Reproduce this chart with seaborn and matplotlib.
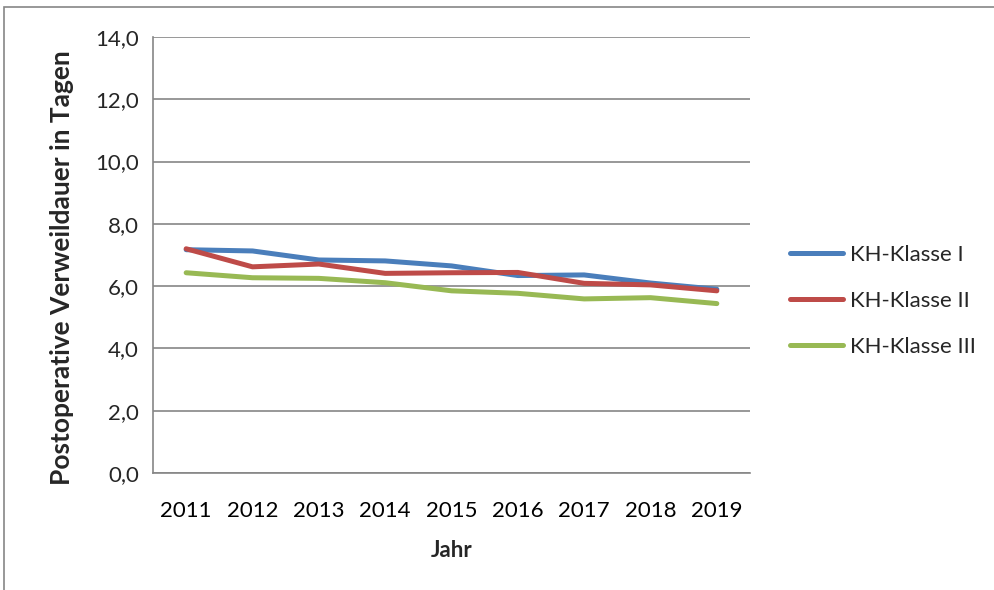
import pandas as pd
import seaborn as sns
import matplotlib.pyplot as plt
from matplotlib.patches import Rectangle

# values
years = [2011, 2012, 2013, 2014, 2015, 2016, 2017, 2018, 2019]
klasse_1 = [7.17, 7.13, 6.84, 6.81, 6.65, 6.34, 6.36, 6.10, 5.90]
klasse_2 = [7.20, 6.62, 6.71, 6.41, 6.43, 6.44, 6.09, 6.04, 5.85]
klasse_3 = [6.43, 6.27, 6.25, 6.11, 5.85, 5.77, 5.59, 5.63, 5.44]
series_names = ['KH-Klasse I', 'KH-Klasse II', 'KH-Klasse III']
colors = ['#4A7EBB', '#BE4B48', '#98B954']

df = pd.DataFrame({
    'Jahr': years * 3,
    'Wert': klasse_1 + klasse_2 + klasse_3,
    'Klasse': [series_names[0]] * 9 + [series_names[1]] * 9 + [series_names[2]] * 9,
})

sns.set_style('white')
plt.rcParams['font.family'] = ['Lato', 'DejaVu Sans']

fig = plt.figure(figsize=(9.95, 5.9), dpi=100)
ax = fig.add_axes([153 / 995, 1 - 473 / 590, (750 - 153) / 995, (473 - 37) / 590])

sns.lineplot(data=df, x='Jahr', y='Wert', hue='Klasse', palette=colors,
             linewidth=3.6, ax=ax, legend=True)
for line in ax.lines:
    line.set_solid_capstyle('round')

ax.set_xlim(2010.5, 2019.5)
ax.set_ylim(0, 14)
ax.set_yticks([0, 2, 4, 6, 8, 10, 12, 14])
ax.set_yticklabels([f'{v:.1f}'.replace('.', ',') for v in range(0, 15, 2)])
ax.set_xticks(years)
ax.set_xticklabels([str(y) for y in years])
ax.set_xticks([y - 0.5 for y in years] + [2019.5], minor=True)
ax.tick_params(axis='x', which='major', length=0, pad=20, labelsize=16, colors='black')
ax.tick_params(axis='x', which='minor', length=6, width=1.2, color='#868686', direction='out')
ax.tick_params(axis='y', length=6, width=1.2, color='#868686', direction='out', labelsize=16, pad=4)

ax.grid(axis='y', color='#868686', linewidth=1.2)
ax.set_axisbelow(True)
for s in ['top', 'right']:
    ax.spines[s].set_visible(False)
for s in ['left', 'bottom']:
    ax.spines[s].set_color('#868686')
    ax.spines[s].set_linewidth(1.2)

ax.set_xlabel('Jahr', fontsize=16, fontweight='bold', labelpad=14)
ax.set_ylabel('Postoperative Verweildauer in Tagen', fontsize=19, fontweight='bold')
ax.yaxis.set_label_coords(-0.132, 0.47)

handles, labels = ax.get_legend_handles_labels()
ax.get_legend().remove()
fig.legend(handles, labels, loc='upper left', bbox_to_anchor=(790 / 995, 1 - 245 / 590),
           frameon=False, fontsize=16, handlelength=2.4, handletextpad=0.3,
           labelspacing=1.17, borderpad=0, borderaxespad=0)

fig.patches.append(Rectangle((4 / 995, -0.1), 1.2, 1 - 7 / 590 + 0.1,
                             transform=fig.transFigure, fill=False,
                             edgecolor='#868686', linewidth=1.2))

fig.savefig('out.png', dpi=100)
